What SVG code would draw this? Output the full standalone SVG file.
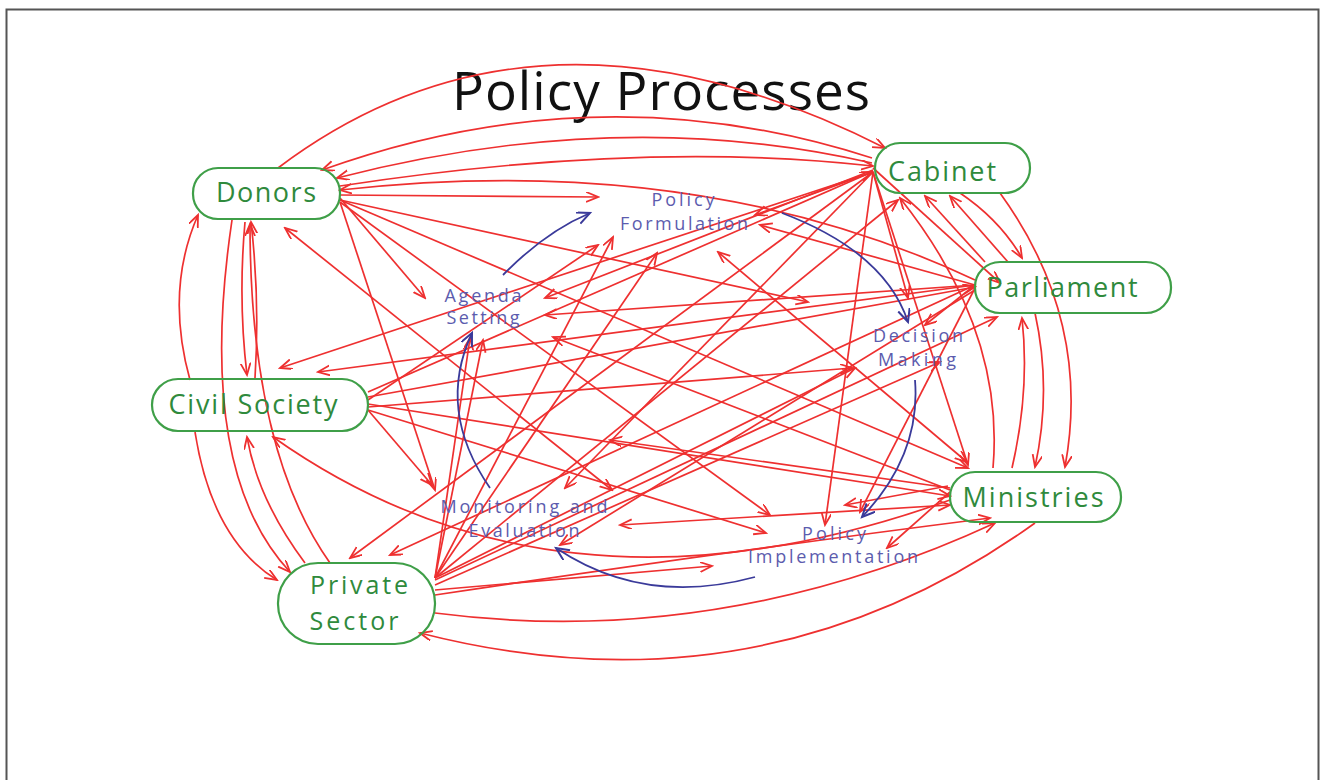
<svg xmlns="http://www.w3.org/2000/svg" width="1322" height="780" viewBox="0 0 1322 780">
<defs>
<marker id="ar" markerUnits="userSpaceOnUse" markerWidth="14" markerHeight="12" refX="12" refY="5" orient="auto-start-reverse">
<path d="M0,0 L12,5 L0,10" fill="none" stroke="#ee3030" stroke-width="1.8"/>
</marker>
<marker id="ab" markerUnits="userSpaceOnUse" markerWidth="16" markerHeight="14" refX="13" refY="6" orient="auto">
<path d="M0,0 L13,6 L0,12" fill="none" stroke="#3a3a9a" stroke-width="2"/>
</marker>
<style>
.c path{fill:none;stroke:#ee3030;stroke-width:1.7;marker-end:url(#ar)}
.c path.d{marker-start:url(#ar)}
.b path{fill:none;stroke:#3a3a9a;stroke-width:1.8;marker-end:url(#ab)}
.actor rect{fill:none;stroke:#3f9f48;stroke-width:2.2}
.actor text{font-family:"Open Sans","Liberation Sans",sans-serif;font-size:27px;fill:#2f8a3c;text-anchor:middle}
.actor text.sm{font-size:25px}
.proc text{font-family:"Open Sans","Liberation Sans",sans-serif;font-size:18px;fill:#5c5cae;text-anchor:middle}
.title{font-family:"Open Sans","Liberation Sans",sans-serif;font-size:53px;fill:#111;text-anchor:middle}
</style>
</defs>
<rect x="0" y="0" width="1322" height="780" fill="#fff"/>
<rect x="6.5" y="9.5" width="1312" height="790" fill="none" stroke="#555" stroke-width="2"/>
<text class="title" x="661" y="110" textLength="418" lengthAdjust="spacing">Policy Processes</text>

<g id="connectors">
<g class="c">
<!-- Donors -->
<path d="M278,168 Q538,-28 885,148"/>
<path d="M872,158 Q600,70 322,170"/>
<path d="M872,163 Q620,105 337,178"/>
<path d="M340,186 Q640,140 873,166"/>
<path d="M975,280 Q700,150 340,190"/>
<path d="M340,195 L598,197"/>
<path d="M340,198 L425,298"/>
<path d="M340,202 L435,490"/>
<path d="M340,200 L808,302"/>
<path d="M340,200 L968,468"/>
<path d="M340,202 L770,515"/>
<path class="d" d="M285,228 L612,490"/>
<!-- left arcs -->
<path d="M190,380 Q165,290 198,215"/>
<path d="M245,222 Q238,300 247,375"/>
<path d="M255,378 Q260,300 251,222"/>
<path d="M232,220 Q195,470 290,572"/>
<path d="M330,563 Q250,450 250,224"/>
<path d="M195,432 Q212,540 277,580"/>
<path d="M305,563 Q258,500 247,437"/>
<path d="M950,500 Q560,640 273,437"/>
<!-- Civil Society -->
<path d="M368,392 L872,172"/>
<path d="M368,400 L598,245"/>
<path d="M368,407 L852,368"/>
<path d="M368,397 L975,287"/>
<path d="M368,410 L432,485"/>
<path d="M368,410 L766,533"/>
<path d="M368,404 L950,496"/>
<!-- Cabinet -->
<path d="M873,172 L755,215"/>
<path d="M873,172 L280,368"/>
<path d="M873,172 L350,558"/>
<path d="M873,172 L565,488"/>
<path d="M873,172 L825,525"/>
<path d="M873,172 L908,298"/>
<path d="M873,170 L545,298"/>
<path d="M873,172 L968,465"/>
<path d="M873,168 L1000,283"/>
<!-- Parliament -->
<path d="M975,285 L760,225"/>
<path d="M975,285 L545,315"/>
<path d="M975,285 L318,372"/>
<path d="M975,285 L390,555"/>
<path d="M975,285 L925,325"/>
<path d="M975,288 L860,512"/>
<path d="M975,290 L560,545"/>
<path d="M985,262 L925,196"/>
<path d="M1008,262 L950,196"/>
<path d="M960,193 Q1000,220 1022,258"/>
<path d="M1035,313 Q1052,390 1035,467"/>
<path d="M1012,468 Q1030,390 1022,318"/>
<path d="M1000,193 Q1092,320 1065,467"/>
<path d="M993,468 Q1005,330 900,198"/>
<!-- Ministries -->
<path class="d" d="M718,252 L967,462"/>
<path d="M950,490 L553,337"/>
<path d="M950,492 L887,548"/>
<path class="d" d="M950,505 L620,525"/>
<path d="M950,488 L610,440"/>
<path d="M948,486 L845,505"/>
<path d="M1035,523 Q760,720 420,633"/>
<!-- Private Sector -->
<path d="M435,578 L483,340"/>
<path d="M435,578 L470,338"/>
<path d="M435,578 L657,253"/>
<path d="M435,578 L613,237"/>
<path d="M435,578 L855,368"/>
<path d="M435,578 L898,200"/>
<path d="M435,580 L997,317"/>
<path d="M435,590 L712,566"/>
<path d="M435,595 Q700,555 990,518"/>
<path d="M435,613 Q720,650 995,523"/>
<path d="M435,585 L940,362"/>
</g>
<g class="b">
<path d="M503,275 Q545,232 590,213"/>
<path d="M782,213 Q885,252 908,322"/>
<path d="M915,380 Q921,455 862,517"/>
<path d="M755,577 Q644,607 556,548"/>
<path d="M490,488 Q436,410 472,333"/>
</g>
</g>

<g id="donors" class="actor"><rect x="193" y="168" width="147" height="51" rx="25"/><text x="266" y="202" textLength="100" lengthAdjust="spacing">Donors</text></g>
<g id="cabinet" class="actor"><rect x="875" y="143" width="155" height="50" rx="25"/><text x="942" y="181" textLength="108" lengthAdjust="spacing">Cabinet</text></g>
<g id="parliament" class="actor"><rect x="975" y="262" width="196" height="51" rx="25"/><text x="1062" y="297" textLength="151" lengthAdjust="spacing">Parliament</text></g>
<g id="ministries" class="actor"><rect x="950" y="472" width="171" height="50" rx="25"/><text x="1033" y="507" textLength="141" lengthAdjust="spacing">Ministries</text></g>
<g id="civil-society" class="actor"><rect x="152" y="379" width="216" height="52" rx="26"/><text x="253" y="414" textLength="169" lengthAdjust="spacing">Civil Society</text></g>
<g id="private-sector" class="actor"><rect x="278" y="563" width="157" height="81" rx="40"/><text class="sm" x="359" y="594" textLength="98" lengthAdjust="spacing">Private</text><text class="sm" x="354" y="630" textLength="89" lengthAdjust="spacing">Sector</text></g>

<g id="policy-formulation" class="proc"><text x="683" y="206" textLength="63" lengthAdjust="spacing">Policy</text><text x="684" y="230" textLength="128" lengthAdjust="spacing">Formulation</text></g>
<g id="agenda-setting" class="proc"><text x="483" y="302" textLength="77" lengthAdjust="spacing">Agenda</text><text x="483" y="324" textLength="73" lengthAdjust="spacing">Setting</text></g>
<g id="decision-making" class="proc"><text x="918" y="342" textLength="90" lengthAdjust="spacing">Decision</text><text x="917" y="366" textLength="78" lengthAdjust="spacing">Making</text></g>
<g id="monitoring-evaluation" class="proc"><text x="524" y="513" textLength="167" lengthAdjust="spacing">Monitoring and</text><text x="524" y="537" textLength="111" lengthAdjust="spacing">Evaluation</text></g>
<g id="policy-implementation" class="proc"><text x="834" y="540" textLength="64" lengthAdjust="spacing">Policy</text><text x="833" y="563" textLength="170" lengthAdjust="spacing">Implementation</text></g>
</svg>
